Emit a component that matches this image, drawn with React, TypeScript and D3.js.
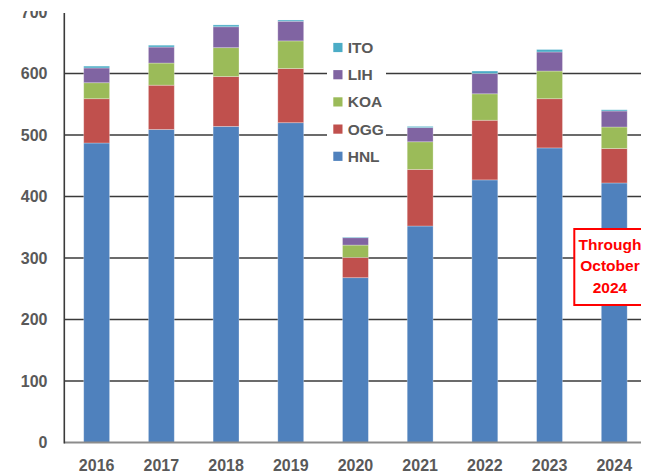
import React, { useEffect, useRef } from "react";
import * as d3 from "d3";

// airport arrivals by year
const years = ["2016", "2017", "2018", "2019", "2020", "2021", "2022", "2023", "2024"];
const hnl = [487, 509, 514, 520, 268, 352, 427, 479, 422];
const ogg = [72, 72, 81, 88, 33, 92, 97, 80, 56];
const koa = [26, 36, 47, 45, 20, 45, 43, 45, 35];
const lih = [24, 26, 34, 32, 12, 23, 33, 31, 26];
const ito = [3, 3, 3, 2, 1, 2, 4, 4, 2];

const seriesNames = ["HNL", "OGG", "KOA", "LIH", "ITO"];
const seriesColors = ["#4F81BD", "#C0504D", "#9BBB59", "#8064A2", "#4BACC6"];
const yTicks = [0, 100, 200, 300, 400, 500, 600, 700];
const noteLines = ["Through", "October", "2024"];

const FONT = "'Liberation Sans', Arial, sans-serif";
const TEXT_GRAY = "#595959";

export default function App() {
  const ref = useRef<SVGSVGElement>(null);

  useEffect(() => {
    const svg = d3.select(ref.current);
    svg.selectAll("*").remove();

    const height = 474;
    const left = 64.3;
    const right = 641;
    const top = 12;
    const bottom = 442.5;

    // flatten into rows for d3.stack
    const rows = years.map((y, i) => ({
      year: y,
      HNL: hnl[i],
      OGG: ogg[i],
      KOA: koa[i],
      LIH: lih[i],
      ITO: ito[i],
    }));
    const stacked = d3.stack<any>().keys(seriesNames)(rows);

    const x = d3.scaleBand()
      .domain(years)
      .range([left, left + 9 * 64.7])
      .paddingInner(0.6)
      .paddingOuter(0.3);

    const y = d3.scaleLinear().domain([0, 700]).range([bottom, top]);

    // the original picture is cut off at the right and top edges
    svg.append("defs").append("clipPath").attr("id", "cut")
      .append("rect")
      .attr("x", 0).attr("y", 11)
      .attr("width", right).attr("height", height - 11);

    const g = svg.append("g").attr("clip-path", "url(#cut)");

    // gridlines
    g.append("g")
      .selectAll("line")
      .data(yTicks.filter(t => t > 0 && t < 700))
      .enter().append("line")
      .attr("x1", left).attr("x2", right)
      .attr("y1", d => y(d)).attr("y2", d => y(d))
      .attr("stroke", "#3a3a3a")
      .attr("stroke-width", 1.6);

    // bars
    g.append("g")
      .selectAll("g")
      .data(stacked)
      .enter().append("g")
      .attr("fill", (d, i) => seriesColors[i])
      .selectAll("rect")
      .data(d => d)
      .enter().append("rect")
      .attr("x", d => x(d.data.year) as number)
      .attr("width", x.bandwidth())
      .attr("y", d => y(d[1]))
      .attr("height", d => y(d[0]) - y(d[1]))
      .attr("stroke", "rgba(255,255,255,0.35)")
      .attr("stroke-width", 0.8);

    // axes lines
    g.append("line")
      .attr("x1", left).attr("x2", right)
      .attr("y1", bottom).attr("y2", bottom)
      .attr("stroke", "#8c8c8c")
      .attr("stroke-width", 2);
    g.append("line")
      .attr("x1", left).attr("x2", left)
      .attr("y1", 13).attr("y2", bottom + 1)
      .attr("stroke", "#3a3a3a")
      .attr("stroke-width", 1.6);

    // y tick labels
    g.append("g")
      .selectAll("text")
      .data(yTicks)
      .enter().append("text")
      .attr("x", 47.5)
      .attr("y", d => y(d))
      .attr("dy", "0.35em")
      .attr("text-anchor", "end")
      .style("font-family", FONT)
      .style("font-weight", "bold")
      .style("font-size", "16px")
      .attr("fill", TEXT_GRAY)
      .text(d => d);

    // x tick labels
    g.append("g")
      .selectAll("text")
      .data(years)
      .enter().append("text")
      .attr("x", d => (x(d) as number) + x.bandwidth() / 2)
      .attr("y", 471)
      .attr("text-anchor", "middle")
      .style("font-family", FONT)
      .style("font-weight", "bold")
      .style("font-size", "16px")
      .attr("fill", TEXT_GRAY)
      .text(d => d);

    // legend (white box hides the gridlines behind it)
    const legend = g.append("g");
    legend.append("rect")
      .attr("x", 327).attr("y", 33)
      .attr("width", 59).attr("height", 138)
      .attr("fill", "#fff");
    const order = seriesNames.slice().reverse();
    const item = legend.selectAll("g.item")
      .data(order)
      .enter().append("g")
      .attr("class", "item")
      .attr("transform", (d, i) => `translate(333.3, ${47.5 + i * 27.2})`);
    item.append("rect")
      .attr("x", 0).attr("y", -4.6)
      .attr("width", 9.2).attr("height", 9.2)
      .attr("fill", d => seriesColors[seriesNames.indexOf(d)]);
    item.append("text")
      .attr("x", 14.4)
      .attr("dy", "0.36em")
      .style("font-family", FONT)
      .style("font-weight", "bold")
      .style("font-size", "15.5px")
      .attr("fill", TEXT_GRAY)
      .text(d => d);

    // "Through October 2024" note
    const note = g.append("g");
    note.append("rect")
      .attr("x", 574.3).attr("y", 229)
      .attr("width", 70.5).attr("height", 76)
      .attr("fill", "#fff")
      .attr("stroke", "#ff0000")
      .attr("stroke-width", 2);
    note.selectAll("text")
      .data(noteLines)
      .enter().append("text")
      .attr("x", 610)
      .attr("y", (d, i) => 249.5 + i * 21.5)
      .attr("text-anchor", "middle")
      .style("font-family", FONT)
      .style("font-weight", "bold")
      .style("font-size", "15.5px")
      .attr("fill", "#ff0000")
      .text(d => d);
  }, []);

  return (
    <svg
      ref={ref}
      width={652}
      height={474}
      style={{ position: "absolute", left: 0, top: 0, background: "#fff" }}
    />
  );
}
